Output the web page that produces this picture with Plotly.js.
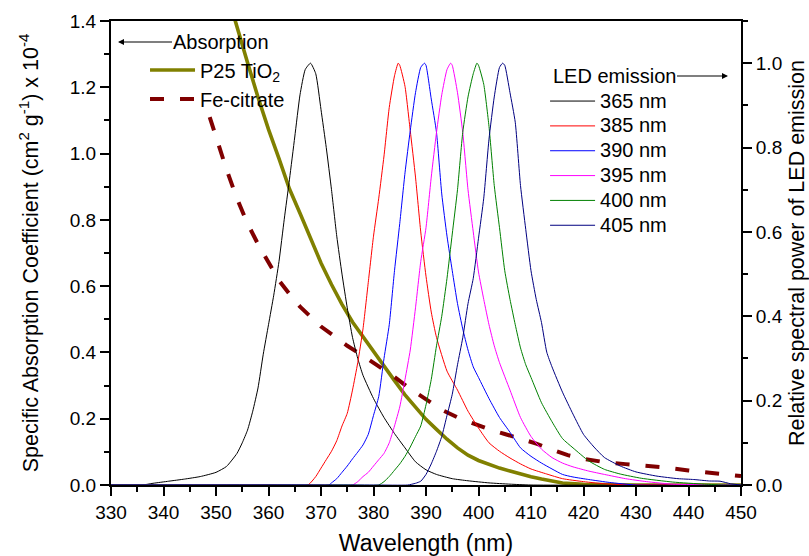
<!DOCTYPE html>
<html>
<head>
<meta charset="utf-8">
<script src="https://cdn.plot.ly/plotly-3.0.1.min.js"></script>
<style>html,body{margin:0;padding:0;background:#fff}#chart{width:809px;height:556px}</style>
</head>
<body>
<div id="chart"></div>
<script>
// ---- Absorption spectra (left axis, x 10^-4 cm2 g-1) ----
const wlTiO2 = [352, 354, 356, 358, 360, 362, 364, 366, 368, 370, 372, 374, 376, 378, 380, 382, 384, 386, 388, 390, 392, 394, 396, 398, 400, 402, 404, 406, 408, 410, 412, 414, 416, 420, 425, 430, 440, 450];
const absTiO2 = [1.49, 1.38, 1.275, 1.17, 1.073, 0.985, 0.893, 0.82, 0.745, 0.67, 0.605, 0.545, 0.492, 0.447, 0.405, 0.36, 0.315, 0.272, 0.233, 0.198, 0.168, 0.138, 0.112, 0.09, 0.074, 0.062, 0.051, 0.042, 0.033, 0.025, 0.018, 0.011, 0.006, 0.002, 0, 0, 0, 0];

const wlFe = [348.8, 350, 352, 354, 356, 358, 360, 362, 364, 366, 368, 370, 372, 375, 378, 381, 384, 387, 390, 393, 396, 399, 402, 405, 408, 411, 414, 417, 420, 424, 428, 432, 436, 440, 445, 450];
const absFe = [1.11, 1.05, 0.952, 0.864, 0.789, 0.727, 0.669, 0.617, 0.576, 0.538, 0.508, 0.478, 0.455, 0.42, 0.39, 0.358, 0.326, 0.29, 0.258, 0.227, 0.204, 0.185, 0.168, 0.154, 0.14, 0.125, 0.107, 0.09, 0.079, 0.069, 0.063, 0.058, 0.052, 0.044, 0.034, 0.027];

// ---- LED emission spectra (right axis, relative) ----
const wl365 = [330, 336, 338, 341, 344, 347, 350, 352, 354, 355, 356, 357, 358, 359, 360, 361, 362, 363, 364, 365, 366, 367, 368, 369, 370, 371, 372, 373, 374, 375, 376, 377, 378, 380, 382, 384, 386, 388, 390, 392, 395, 398, 402, 406, 410, 450];
const led365 = [0, 0, 0.004, 0.009, 0.014, 0.02, 0.03, 0.044, 0.075, 0.1, 0.13, 0.175, 0.23, 0.31, 0.38, 0.45, 0.53, 0.63, 0.725, 0.825, 0.925, 0.985, 1.0, 0.975, 0.89, 0.80, 0.70, 0.59, 0.50, 0.42, 0.35, 0.30, 0.26, 0.205, 0.16, 0.122, 0.088, 0.055, 0.036, 0.025, 0.015, 0.01, 0.005, 0.002, 0, 0];

const wl385 = [330, 360, 367.5, 369, 370, 371, 372, 373, 374, 375, 376, 377, 378, 379, 380, 381, 382, 383, 384, 384.7, 385, 386, 387, 388, 389, 390, 391, 392, 394, 396, 398, 400, 402, 404, 406, 408, 410, 413, 416, 420, 425, 450];
const led385 = [0, 0, 0, 0.02, 0.04, 0.06, 0.08, 0.105, 0.14, 0.17, 0.225, 0.29, 0.37, 0.48, 0.59, 0.68, 0.78, 0.895, 0.97, 1.0, 0.995, 0.945, 0.84, 0.73, 0.60, 0.495, 0.41, 0.35, 0.27, 0.225, 0.175, 0.135, 0.10, 0.08, 0.064, 0.05, 0.038, 0.026, 0.015, 0.008, 0.002, 0];

const wl390 = [330, 365, 371.5, 372, 373, 374, 375, 376, 377, 378, 379, 380, 381, 382, 383, 384, 385, 386, 387, 388, 389, 389.7, 390, 391, 392, 393, 394, 395, 396, 397, 398, 399, 400, 402, 404, 406, 408, 410, 412, 414, 416, 418, 421, 425, 430, 450];
const led390 = [0, 0, 0, 0.005, 0.015, 0.03, 0.045, 0.062, 0.078, 0.095, 0.12, 0.165, 0.21, 0.30, 0.38, 0.508, 0.62, 0.74, 0.84, 0.93, 0.99, 1.0, 0.995, 0.915, 0.836, 0.69, 0.59, 0.508, 0.43, 0.37, 0.32, 0.28, 0.255, 0.205, 0.16, 0.125, 0.088, 0.068, 0.052, 0.038, 0.025, 0.019, 0.013, 0.006, 0, 0];

const wl395 = [330, 370, 376, 377, 378, 379, 380, 381, 382, 383, 384, 385, 386, 387, 388, 389, 390, 391, 392, 393, 394, 394.7, 395, 396, 397, 398, 399, 400, 401, 402, 403, 404, 406, 408, 410, 412, 414, 416, 418, 421, 424, 428, 432, 437, 450];
const led395 = [0, 0, 0, 0.008, 0.02, 0.03, 0.045, 0.06, 0.075, 0.10, 0.14, 0.185, 0.25, 0.32, 0.42, 0.53, 0.61, 0.73, 0.836, 0.925, 0.985, 1.0, 0.995, 0.93, 0.836, 0.70, 0.60, 0.505, 0.44, 0.38, 0.33, 0.29, 0.225, 0.16, 0.115, 0.085, 0.065, 0.052, 0.043, 0.033, 0.025, 0.015, 0.008, 0.002, 0];

const wl400 = [330, 375, 381, 382, 383, 384, 385, 386, 387, 388, 389, 390, 391, 392, 393, 394, 395, 396, 397, 398, 399, 399.7, 400, 401, 402, 403, 404, 405, 406, 407, 408, 409, 410, 412, 414, 416, 418, 421, 424, 427, 431, 437, 443, 447, 450];
const led400 = [0, 0, 0, 0.008, 0.02, 0.035, 0.05, 0.068, 0.09, 0.115, 0.14, 0.19, 0.25, 0.33, 0.40, 0.49, 0.595, 0.70, 0.836, 0.92, 0.975, 1.0, 0.995, 0.95, 0.85, 0.71, 0.61, 0.508, 0.44, 0.38, 0.325, 0.285, 0.255, 0.195, 0.15, 0.11, 0.088, 0.057, 0.037, 0.026, 0.016, 0.007, 0.002, 0, 0];

const wl405 = [330, 380, 386.5, 388, 389, 390, 391, 392, 393, 394, 395, 396, 397, 398, 399, 400, 401, 402, 403, 404, 404.6, 405, 406, 407, 408, 409, 410, 411, 412, 413, 414, 416, 418, 420, 422, 424, 427, 430, 434, 438, 441, 444, 446, 448, 450];
const led405 = [0, 0, 0, 0.004, 0.009, 0.025, 0.05, 0.08, 0.115, 0.165, 0.215, 0.285, 0.349, 0.43, 0.49, 0.585, 0.68, 0.82, 0.92, 0.99, 1.0, 0.995, 0.93, 0.86, 0.71, 0.606, 0.508, 0.44, 0.385, 0.315, 0.28, 0.22, 0.168, 0.12, 0.09, 0.065, 0.045, 0.031, 0.021, 0.015, 0.013, 0.0095, 0.009, 0.003, 0];

const ledNames = ['365 nm', '385 nm', '390 nm', '395 nm', '400 nm', '405 nm'];
const ledWl = [wl365, wl385, wl390, wl395, wl400, wl405];
const ledVal = [led365, led385, led390, led395, led400, led405];
const ledColors = ['#000000', '#ff0000', '#0000ff', '#ff00ff', '#008000', '#000080'];

const FONT = 'Arial, "Liberation Sans", sans-serif';

const traces = [
  {x: wlTiO2, y: absTiO2, name: 'P25 TiO<sub>2</sub>', type: 'scatter', mode: 'lines',
   line: {color: '#808000', width: 3.6}, legend: 'legend', legendgroup: 'a1', yaxis: 'y'},
  {x: wlFe, y: absFe, name: 'Fe-citrate', type: 'scatter', mode: 'lines',
   line: {color: '#800000', width: 4, dash: '14px,16px'}, legend: 'legend', legendgroup: 'a2', yaxis: 'y'}
];
for (let i = 0; i < ledNames.length; i++) {
  traces.push({x: ledWl[i], y: ledVal[i], name: '<span style="font-size:20px">' + ledNames[i] + '</span>',
    type: 'scatter', mode: 'lines',
    line: {color: ledColors[i], width: 1, shape: 'spline', smoothing: 0.5}, legend: 'legend2', yaxis: 'y2'});
}

const axisBase = {
  ticks: 'outside', ticklen: 9, tickwidth: 2, tickcolor: '#000',
  showline: true, linewidth: 2, linecolor: '#000',
  showgrid: false, zeroline: false,
  tickfont: {size: 19, family: FONT, color: '#000'}
};

const layout = {
  width: 809, height: 556,
  margin: {l: 111, r: 68, t: 21, b: 71, pad: 0},
  paper_bgcolor: '#ffffff', plot_bgcolor: '#ffffff',
  font: {family: FONT, color: '#000', size: 19},
  showlegend: true,
  hovermode: false,
  xaxis: Object.assign({}, axisBase, {
    range: [330, 450], tick0: 330, dtick: 10, mirror: true,
    minor: {dtick: 5, ticks: 'outside', ticklen: 5, tickwidth: 2, tickcolor: '#000', showgrid: false},
    title: {text: 'Wavelength (nm)', font: {size: 23, family: FONT, color: '#000'}, standoff: 14}
  }),
  yaxis: Object.assign({}, axisBase, {
    range: [0, 1.4], tick0: 0, dtick: 0.2, tickformat: '.1f',
    minor: {dtick: 0.1, ticks: 'outside', ticklen: 5, tickwidth: 2, tickcolor: '#000', showgrid: false},
    title: {text: 'Specific Absorption Coefficient (cm<sup>2</sup> g<sup>-1</sup>) x 10<sup>-4</sup>', font: {size: 21.5, family: FONT, color: '#000'}, standoff: 25}
  }),
  yaxis2: Object.assign({}, axisBase, {
    overlaying: 'y', side: 'right', anchor: 'x',
    range: [0, 1.1], tick0: 0, dtick: 0.2, tickformat: '.1f',
    minor: {dtick: 0.1, ticks: 'outside', ticklen: 5, tickwidth: 2, tickcolor: '#000', showgrid: false},
    title: {text: 'Relative spectral power of LED emission', font: {size: 21.5, family: FONT, color: '#000'}, standoff: 8}
  }),
  legend: {
    x: 0.054, y: 0.9364, xanchor: 'left', yanchor: 'top',
    bgcolor: 'rgba(0,0,0,0)', borderwidth: 0,
    font: {size: 20, family: FONT, color: '#000'},
    itemwidth: 45, tracegroupgap: 6, traceorder: 'normal'
  },
  legend2: {
    x: 0.689, y: 0.865, xanchor: 'left', yanchor: 'top',
    bgcolor: 'rgba(0,0,0,0)', borderwidth: 0,
    font: {size: 16.8, family: FONT, color: '#000'},
    itemwidth: 45, tracegroupgap: 0, traceorder: 'normal'
  },
  annotations: [
    {xref: 'paper', yref: 'paper', x: 0.0111, y: 0.9547, text: 'Absorption',
     showarrow: true, ax: 103.5, ay: 0, arrowhead: 2, arrowsize: 1, arrowwidth: 1.2, arrowcolor: '#000',
     font: {size: 20, family: FONT, color: '#000'}},
    {xref: 'paper', yref: 'paper', x: 0.9794, y: 0.8815, text: 'LED emission',
     showarrow: true, ax: -114, ay: 0, arrowhead: 2, arrowsize: 1, arrowwidth: 1.2, arrowcolor: '#000',
     font: {size: 20, family: FONT, color: '#000'}}
  ]
};

Plotly.newPlot('chart', traces, layout, {displayModeBar: false, staticPlot: true});
</script>
</body>
</html>
